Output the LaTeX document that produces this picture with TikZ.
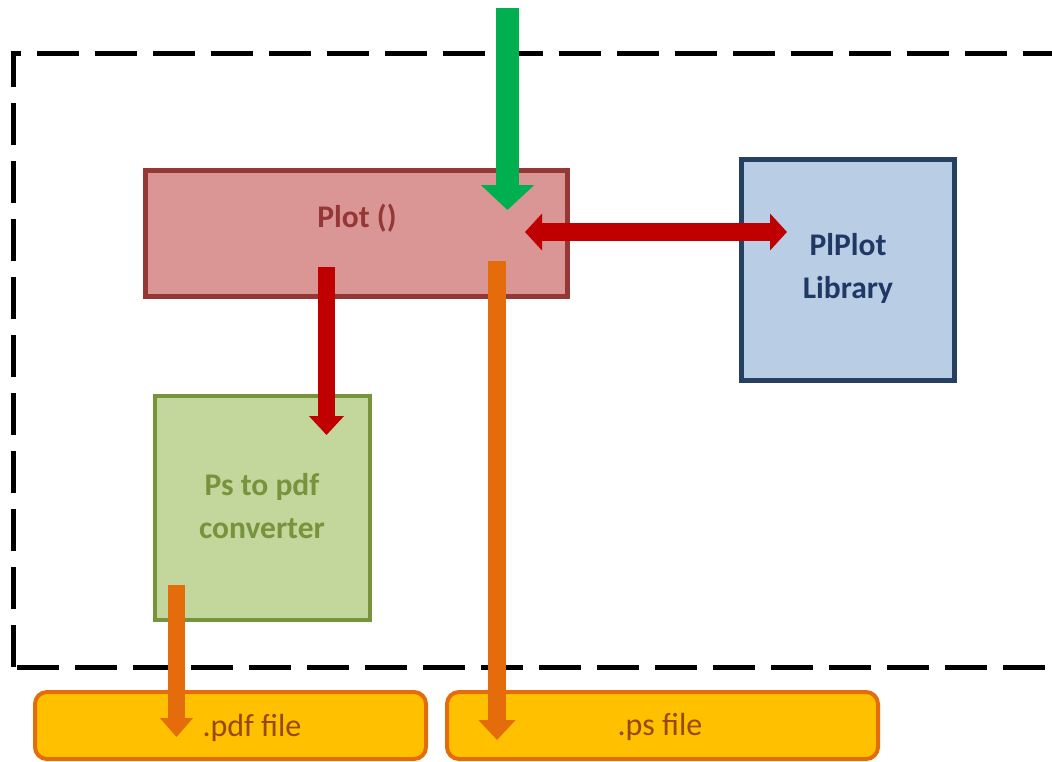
\documentclass[tikz,border=0pt]{standalone}
\usepackage{fontspec}
\setmainfont{Carlito}
\usetikzlibrary{arrows.meta}

\definecolor{plotfill}{HTML}{D99694}
\definecolor{plotline}{HTML}{953735}
\definecolor{libfill}{HTML}{B9CDE5}
\definecolor{libline}{HTML}{254061}
\definecolor{libtext}{HTML}{1F3864}
\definecolor{convfill}{HTML}{C3D69B}
\definecolor{convline}{HTML}{77933C}
\definecolor{filefill}{HTML}{FFC000}
\definecolor{fileline}{HTML}{E46C0A}
\definecolor{filetext}{HTML}{984807}
\definecolor{arrgreen}{HTML}{00B050}
\definecolor{arrred}{HTML}{C00000}
\definecolor{arrorange}{HTML}{E46C0A}

\tikzset{
  boxbase/.style={rectangle, inner sep=0pt, outer sep=0pt},
  plotbox/.style={boxbase, fill=plotfill, draw=plotline, line width=5pt},
  libbox/.style={boxbase, fill=libfill, draw=libline, line width=5pt},
  convbox/.style={boxbase, fill=convfill, draw=convline, line width=4pt},
  filebox/.style={boxbase, fill=filefill, draw=fileline, line width=4pt, rounded corners=12pt},
  boldlabel/.style={font=\fontsize{31.5}{43}\selectfont\bfseries, align=center, inner sep=0pt},
  filelabel/.style={font=\fontsize{32}{38}\selectfont, text=filetext, inner sep=0pt},
}

\begin{document}
\begin{tikzpicture}[x=1pt, y=-1pt]
  \useasboundingbox (0,0) rectangle (1052,761);
  \clip (0,0) rectangle (1052,761);

  % system boundary
  \draw[line width=5pt, dash pattern=on 42pt off 16pt] (13,667) -- (13,53) -- (1075,53) -- (1075,667) -- cycle;

  % components
  \node[plotbox, minimum width=422pt, minimum height=126pt] (plot) at (356.5,233.5) {};
  \node[boldlabel, text=plotline] (plotlbl) at (357,218) {Plot ()};

  \node[libbox, minimum width=213pt, minimum height=221pt] (lib) at (848,270) {};
  \node[boldlabel, text=libtext] (liblbl) at (848,268) {PlPlot\\Library};

  \node[convbox, minimum width=215pt, minimum height=224pt] (conv) at (262.5,508) {};
  \node[boldlabel, text=convline] (convlbl) at (262,506) {Ps to pdf\\converter};

  % output files
  \node[filebox, minimum width=391pt, minimum height=67pt] (pdf) at (230.5,725.5) {};
  \node[filelabel] (pdflbl) at (252,728) {.pdf file};

  \node[filebox, minimum width=431pt, minimum height=67pt] (ps) at (662.5,725.5) {};
  \node[filelabel] (pslbl) at (660,727) {.ps file};

  % arrow end points
  \coordinate (inTop) at (507.5,8);
  \coordinate (inEnd) at (507.5,210);
  \coordinate (linkA) at (525,232);
  \coordinate (linkB) at (787,232);
  \coordinate (toConvA) at (326.5,267);
  \coordinate (toConvB) at (326.5,435);
  \coordinate (toPdfA) at (176.5,585);
  \coordinate (toPdfB) at (176.5,737);
  \coordinate (toPsA) at (497,261);
  \coordinate (toPsB) at (497,740);

  % connectors
  \draw[arrgreen, line width=23pt, -{Triangle[width=52pt, length=25pt]}] (inTop) -- (inEnd);
  \draw[arrred, line width=18pt, {Triangle[width=36pt, length=17pt]}-{Triangle[width=36pt, length=17pt]}] (linkA) -- (linkB);
  \draw[arrred, line width=17pt, -{Triangle[width=34pt, length=19pt]}] (toConvA) -- (toConvB);
  \draw[arrorange, line width=17pt, -{Triangle[width=32pt, length=19pt]}] (toPdfA) -- (toPdfB);
  \draw[arrorange, line width=18pt, -{Triangle[width=36pt, length=20pt]}] (toPsA) -- (toPsB);
\end{tikzpicture}
\end{document}
